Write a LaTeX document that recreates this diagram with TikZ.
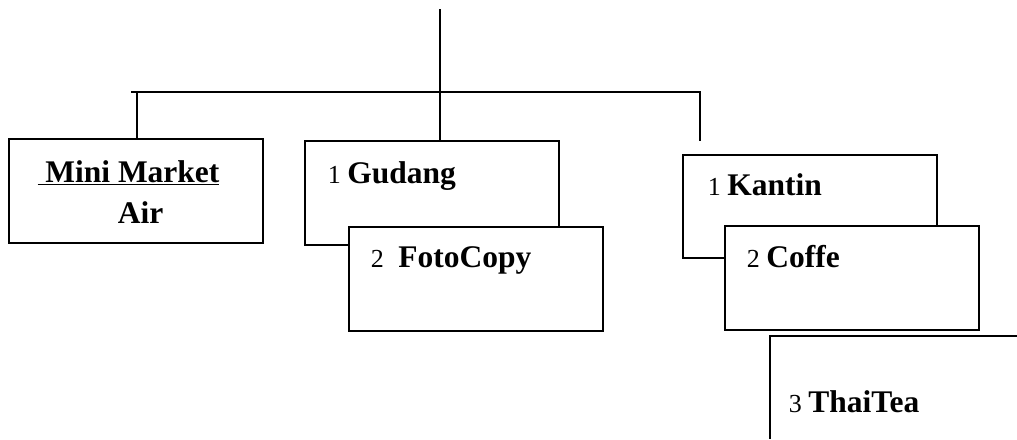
\documentclass[tikz,border=0pt]{standalone}
\usepackage{fontspec}
\setmainfont{Liberation Serif}
\begin{document}
\begin{tikzpicture}[x=1pt,y=-1pt,line width=1.8pt,
  box/.style={draw,fill=white,minimum width=254pt,minimum height=104pt,inner sep=0pt},
  lbl/.style={inner sep=0pt,anchor=base west},
  ctr/.style={inner sep=0pt,anchor=base},
  big/.style={font=\fontsize{31.5}{36}\selectfont\bfseries}]
\useasboundingbox (0,0) rectangle (1017,439);
% boxes
\node[box] (mm) at (136,191) {};
\node[box] (gud) at (432,193) {};
\node[box] (foto) at (476,279) {};
\node[box,minimum height=103pt] (kan) at (810,206.5) {};
\node[box] (cof) at (852,278) {};
% ThaiTea open box
\coordinate (ttr) at (1017,336);
\coordinate (ttl) at (770,336);
\coordinate (ttb) at (770,439);
\draw (ttr) -- (ttl) -- (ttb);
% connectors
\coordinate (top) at (440,9);
\coordinate (jm) at (440,92);
\coordinate (jl) at (131,92);
\coordinate (jr) at (700,92);
\coordinate (rend) at (700,141);
\draw (top) -- (jm);
\draw (jl) -- (jr) -- (rend);
\draw (137,92) -- (137,0 |- mm.north);
\draw (jm) -- (jm |- gud.north);
% texts
\node[ctr,big] (t1) at (128.5,182) {\underline{~Mini Market}};
\node[ctr,big] (t2) at (140.5,223) {Air};
\node[lbl] (t3) at (327,183) {\fontsize{26}{30}\selectfont 1 \fontsize{31.5}{36}\selectfont\bfseries Gudang};
\node[lbl] (t4) at (370,267) {\fontsize{26}{30}\selectfont 2 \fontsize{31.5}{36}\selectfont\bfseries\ FotoCopy};
\node[lbl] (t5) at (707,195) {\fontsize{26}{30}\selectfont 1 \fontsize{31.5}{36}\selectfont\bfseries Kantin};
\node[lbl] (t6) at (746,267) {\fontsize{26}{30}\selectfont 2 \fontsize{31.5}{36}\selectfont\bfseries Coffe};
\node[lbl] (t7) at (788,412) {\fontsize{26}{30}\selectfont 3 \fontsize{31.5}{36}\selectfont\bfseries ThaiTea};
\end{tikzpicture}
\end{document}
